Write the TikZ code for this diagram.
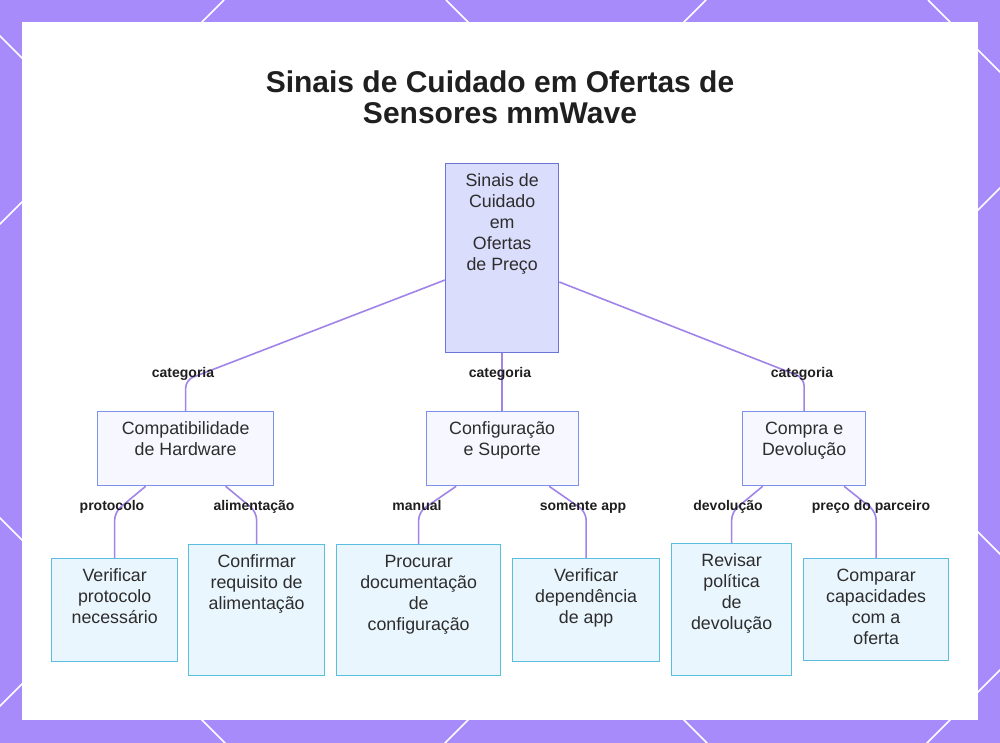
\documentclass[tikz,border=0pt]{standalone}
\usepackage{fontspec}
\setmainfont{Liberation Sans}
\usetikzlibrary{calc}
\definecolor{bgpurple}{RGB}{167,139,250}
\definecolor{edgec}{RGB}{160,132,232}
\definecolor{rootfill}{RGB}{218,221,251}
\definecolor{rootdraw}{RGB}{108,116,216}
\definecolor{catfill}{RGB}{246,247,255}
\definecolor{catdraw}{RGB}{125,145,232}
\definecolor{leaffill}{RGB}{234,246,254}
\definecolor{leafdraw}{RGB}{92,190,222}
\definecolor{txtc}{RGB}{45,45,45}
\newcommand{\bxt}[3]{\parbox[c][#2][t]{#1}{\centering\vspace*{8pt}\strut #3}}
\tikzset{
  boxbase/.style={inner sep=0pt, anchor=north west, line width=1.3pt, font=\fontsize{17.8}{21}\selectfont, text=txtc},
  rootbox/.style={boxbase, fill=rootfill, draw=rootdraw},
  catbox/.style={boxbase, fill=catfill, draw=catdraw},
  leafbox/.style={boxbase, fill=leaffill, draw=leafdraw},
  elabel/.style={font=\fontsize{14}{16}\selectfont\bfseries, text=black!88, inner sep=1pt, text height=10pt, text depth=3pt},
  edgeline/.style={draw=edgec, line width=1.6pt, rounded corners=8pt},
  bgline/.style={white, line width=1.5pt}
}
\begin{document}
\begin{tikzpicture}[x=1pt,y=-1pt]
\useasboundingbox (0,0) rectangle (1000,743);
% background
\fill[bgpurple] (0,0) rectangle (1000,743);
\begin{scope}
\clip (0,0) rectangle (1000,743);
\foreach \c in {224,706,1188,1670} \draw[bgline] (\c,0) -- ({\c-800},800);
\foreach \d in {-518,-36,446,928} \draw[bgline] (\d,0) -- ({\d+800},800);
\end{scope}
\fill[white] (22,22) rectangle (978,720);
% title
\node[font=\fontsize{30}{31.5}\selectfont\bfseries, text=black!88, align=center] (title) at (500,97.5) {Sinais de Cuidado em Ofertas de\\Sensores mmWave};
% nodes
\node[rootbox] (root) at (445,163) {\bxt{113pt}{189pt}{Sinais de\\Cuidado\\em\\Ofertas\\de Preço}};
\node[catbox] (cat1) at (97,411) {\bxt{176pt}{74pt}{Compatibilidade\\de Hardware}};
\node[catbox] (cat2) at (425.5,411) {\bxt{152pt}{74pt}{Configuração\\e Suporte}};
\node[catbox] (cat3) at (742,411) {\bxt{123pt}{74pt}{Compra e\\Devolução}};
\node[leafbox] (l1) at (51,558) {\bxt{126pt}{103pt}{Verificar\\protocolo\\necessário}};
\node[leafbox] (l2) at (188,544) {\bxt{136pt}{131pt}{Confirmar\\requisito de\\alimentação}};
\node[leafbox] (l3) at (336,544) {\bxt{164pt}{131pt}{Procurar\\documentação\\de\\configuração}};
\node[leafbox] (l4) at (512,558) {\bxt{147pt}{103pt}{Verificar\\dependência\\de app}};
\node[leafbox] (l5) at (671,543) {\bxt{120pt}{132pt}{Revisar\\política\\de\\devolução}};
\node[leafbox] (l6) at (803,558) {\bxt{145pt}{102pt}{Comparar\\capacidades\\com a\\oferta}};
% edges level 1
\draw[edgeline] ($(root.north west)+(0,117)$) -- (cat1.north |- 0,380) -- (cat1.north);
\draw[edgeline] (root.south) -- (cat2.north);
\draw[edgeline] ($(root.north east)+(0,119)$) -- (cat3.north |- 0,378) -- (cat3.north);
% edges level 2
\draw[edgeline] ($(cat1.south)+(-40,0)$) -- (l1.north |- 0,512) -- (l1.north);
\draw[edgeline] ($(cat1.south)+(40,0)$) -- (l2.north |- 0,512) -- (l2.north);
\draw[edgeline] ($(cat2.south)+(-46,0)$) -- (l3.north |- 0,512) -- (l3.north);
\draw[edgeline] ($(cat2.south)+(47,0)$) -- (l4.north |- 0,512) -- (l4.north);
\draw[edgeline] ($(cat3.south)+(-41.5,0)$) -- (l5.north |- 0,512) -- (l5.north);
\draw[edgeline] ($(cat3.south)+(40,0)$) -- (l6.north |- 0,512) -- (l6.north);
% edge labels
\node[elabel] (e1) at (183,374) {categoria};
\node[elabel] (e2) at (500,374) {categoria};
\node[elabel] (e3) at (802,374) {categoria};
\node[elabel] (e4) at (112,507) {protocolo};
\node[elabel] (e5) at (254,507) {alimentação};
\node[elabel] (e6) at (417,507) {manual};
\node[elabel] (e7) at (583,507) {somente app};
\node[elabel] (e8) at (728,507) {devolução};
\node[elabel] (e9) at (871,507) {preço do parceiro};
\end{tikzpicture}
\end{document}
